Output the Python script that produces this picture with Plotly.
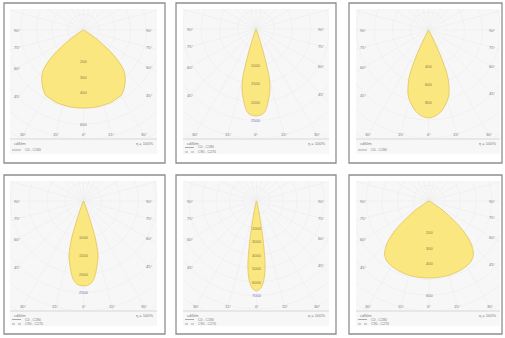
import numpy as np
import plotly.graph_objects as go

# ---------------- data ----------------
angles = [0, 2.5, 5, 7.5, 10, 12.5, 15, 17.5, 20, 22.5, 25, 27.5, 30,
          35, 40, 45, 50, 55, 60, 65, 70, 75, 80, 85, 90]

# luminous intensity, cd/klm, C0-C180 plane (symmetric)
intensity_1 = [497, 497, 497, 497, 497, 496, 495, 494, 494, 490, 487, 484, 481,
               452, 414, 363, 255, 115, 25, 6, 0, 0, 0, 0, 0]
intensity_2 = [2375, 2361, 2320, 2184, 1966, 1747, 1420, 683, 164, 55, 14, 0, 0,
               0, 0, 0, 0, 0, 0, 0, 0, 0, 0, 0, 0]
intensity_3 = [977, 971, 955, 932, 899, 855, 810, 755, 666, 555, 333, 89, 22,
               6, 0, 0, 0, 0, 0, 0, 0, 0, 0, 0, 0]
intensity_4 = [2320, 2307, 2266, 2157, 1966, 1747, 1529, 1092, 410, 109, 27, 0, 0,
               0, 0, 0, 0, 0, 0, 0, 0, 0, 0, 0, 0]
intensity_5 = [6660, 6510, 5990, 4880, 2590, 740, 222, 37, 0, 0, 0, 0, 0,
               0, 0, 0, 0, 0, 0, 0, 0, 0, 0, 0, 0]
intensity_6 = [490, 490, 490, 490, 490, 490, 489, 489, 487, 486, 484, 481, 478,
               468, 440, 375, 262, 124, 31, 6, 0, 0, 0, 0, 0]

radial_labels_1 = [200, 300, 400, 600]
radial_labels_2 = [1000, 1500, 2000, 2500]
radial_labels_3 = [400, 600, 800]
radial_labels_4 = [1000, 1500, 2000, 2500]
radial_labels_5 = [2000, 3000, 4000, 5000, 6000, 7000]
radial_labels_6 = [200, 300, 400, 600]

grid_steps = [100, 500, 200, 500, 1000, 100]

side_angles = [90, 75, 60, 45]
side_angle_labels = ["90°", "75°", "60°", "45°"]
bottom_angles = [-30, -15, 0, 15, 30]
bottom_angle_labels = ["30°", "15°", "0°", "15°", "30°"]
unit_label = "cd/klm"
efficiency_label = "η = 100%"
legend_labels = ["C0 - C180", "C90 - C270"]
legend_counts = [1, 2, 1, 2, 2, 2]

intensities = [intensity_1, intensity_2, intensity_3, intensity_4, intensity_5, intensity_6]
radial_labels = [radial_labels_1, radial_labels_2, radial_labels_3,
                 radial_labels_4, radial_labels_5, radial_labels_6]

# ---------------- layout (pixels) ----------------
W, H = 505, 338
px_per_step = [15.7, 18.3, 18.0, 18.3, 13.5, 15.7]
boxes = [(4, 3, 165, 163), (176, 3, 336, 163), (349, 3, 502, 163),
         (4, 175, 165, 334), (176, 175, 336, 334), (349, 175, 502, 334)]
inners = [(10, 9, 157, 154), (183, 9, 329, 154), (356, 9, 500, 154),
          (10, 181, 157, 326), (183, 181, 329, 326), (356, 181, 500, 326)]
origins = [(83.5, 30), (256, 29), (428.5, 30), (83.5, 201), (256.5, 201), (429, 201)]
plot_h = 129

FILL = "#fae77f"
EDGE = "#e2c35a"
GRID = "#eaeaea"
TXT = "#7a7a7a"
FONT = "Liberation Sans, Arial, sans-serif"


def px(x):
    return x / W


def py(y):
    return 1 - y / H


fig = go.Figure()
shapes = []
annotations = []

for i in range(6):
    n = i + 1
    xa = "x" if n == 1 else f"x{n}"
    ya = "y" if n == 1 else f"y{n}"
    bx0, by0, bx1, by1 = boxes[i]
    ix0, iy0, ix1, iy1 = inners[i]
    ox, oy = origins[i]
    step = grid_steps[i]
    k = step / px_per_step[i]  # cd per pixel
    pb = iy0 + plot_h  # bottom of polar area

    # frames
    shapes.append(dict(type="rect", xref="paper", yref="paper", layer="below",
                       x0=px(ix0), x1=px(ix1), y0=py(iy1), y1=py(iy0),
                       fillcolor="#f7f7f7", line=dict(width=0)))
    shapes.append(dict(type="rect", xref="paper", yref="paper", layer="above",
                       x0=px(bx0), x1=px(bx1), y0=py(by1), y1=py(by0),
                       fillcolor="rgba(0,0,0,0)", line=dict(color="#8e8e8e", width=1.3)))
    shapes.append(dict(type="line", xref="paper", yref="paper", layer="above",
                       x0=px(ix0), x1=px(ix1), y0=py(pb + 1), y1=py(pb + 1),
                       line=dict(color="#cfcfcf", width=0.8)))

    # axes
    xr = [(ix0 - ox) * k, (ix1 - ox) * k]
    yr = [-(pb - oy) * k, (oy - iy0) * k]
    fig.layout[f"xaxis{'' if n == 1 else n}"] = dict(
        domain=[px(ix0), px(ix1)], range=xr, anchor=ya, visible=False, fixedrange=True)
    fig.layout[f"yaxis{'' if n == 1 else n}"] = dict(
        domain=[py(pb), py(iy0)], range=yr, anchor=xa, visible=False, fixedrange=True)

    # grid: rays and circles
    rmax = 170 * k
    gx, gy = [], []
    for a in range(0, 360, 15):
        t = np.radians(a)
        gx += [0, rmax * np.sin(t), None]
        gy += [0, -rmax * np.cos(t), None]
    tt = np.linspace(0, 2 * np.pi, 181)
    r = step
    while r <= rmax:
        gx += list(r * np.sin(tt)) + [None]
        gy += list(-r * np.cos(tt)) + [None]
        r += step
    fig.add_trace(go.Scatter(x=gx, y=gy, mode="lines", line=dict(color=GRID, width=0.5),
                             xaxis=xa, yaxis=ya, hoverinfo="skip", showlegend=False))

    # light distribution curve
    a = np.array(angles, dtype=float)
    I = np.array(intensities[i], dtype=float)
    full_a = np.concatenate([-a[::-1], a[1:]])
    full_I = np.concatenate([I[::-1], I[1:]])
    keep = full_I > 0
    ca = np.radians(full_a[keep])
    cI = full_I[keep]
    cx = np.concatenate([[0], cI * np.sin(ca), [0]])
    cy = np.concatenate([[0], -cI * np.cos(ca), [0]])
    fig.add_trace(go.Scatter(x=cx, y=cy, mode="lines", fill="toself", fillcolor=FILL,
                             line=dict(color=EDGE, width=0.8, shape="spline", smoothing=0.9),
                             xaxis=xa, yaxis=ya, hoverinfo="skip", showlegend=False))

    # radial labels
    peak = max(intensities[i])
    for v in radial_labels[i]:
        inside = v < peak
        annotations.append(dict(x=0, y=-v, xref=xa, yref=ya, text=str(v), showarrow=False,
                                font=dict(size=4, color="#8a7a3e" if inside else
                                          ("#7c6cc0" if legend_counts[i] == 2 and i != 5 else TXT),
                                          family=FONT)))

    # angle labels on the sides
    lx = (ix0 + 7 - ox) * k
    rx = (ix1 - 8 - ox) * k
    for ang, lab in zip(side_angles, side_angle_labels):
        t = np.radians(ang)
        yy = -abs(lx) * np.cos(t) / np.sin(t)
        annotations.append(dict(x=lx, y=yy, xref=xa, yref=ya, text=lab, showarrow=False,
                                font=dict(size=4, color=TXT, family=FONT)))
        yy = -abs(rx) * np.cos(t) / np.sin(t)
        annotations.append(dict(x=rx, y=yy, xref=xa, yref=ya, text=lab, showarrow=False,
                                font=dict(size=4, color=TXT, family=FONT)))
    # angle labels at the bottom
    by = -(pb - 4 - oy) * k
    for ang, lab in zip(bottom_angles, bottom_angle_labels):
        t = np.radians(ang)
        annotations.append(dict(x=-by * np.tan(t), y=by, xref=xa, yref=ya, text=lab,
                                showarrow=False, font=dict(size=4, color=TXT, family=FONT)))

    # footer texts
    annotations.append(dict(x=px(ix0 + 2), y=py(pb + 5), xref="paper", yref="paper",
                            text=unit_label, showarrow=False, xanchor="left", yanchor="middle",
                            font=dict(size=4, color=TXT, family=FONT)))
    annotations.append(dict(x=px(ix1 - 2), y=py(pb + 5), xref="paper", yref="paper",
                            text=efficiency_label, showarrow=False, xanchor="right",
                            yanchor="middle", font=dict(size=4, color=TXT, family=FONT)))
    nleg = legend_counts[i]
    for j in range(nleg):
        ly = pb + (12 if nleg == 1 else 9.5 + 4.5 * j)
        shapes.append(dict(type="line", xref="paper", yref="paper",
                           x0=px(ix0 + 2), x1=px(ix0 + 11), y0=py(ly), y1=py(ly),
                           line=dict(color="#8a8a8a", width=0.7, dash="solid" if j == 0 else "dot")))
        annotations.append(dict(x=px(ix0 + 13), y=py(ly), xref="paper", yref="paper",
                                text=legend_labels[j], showarrow=False, xanchor="left",
                                yanchor="middle", font=dict(size=3.5, color=TXT, family=FONT)))

fig.update_layout(width=W, height=H, margin=dict(l=0, r=0, t=0, b=0),
                  paper_bgcolor="white", plot_bgcolor="rgba(0,0,0,0)",
                  shapes=shapes, annotations=annotations, showlegend=False)

fig.write_html("out.html", config={"displayModeBar": False, "staticPlot": True},
               post_script="document.body.style.margin='0';document.body.style.overflow='hidden';")
